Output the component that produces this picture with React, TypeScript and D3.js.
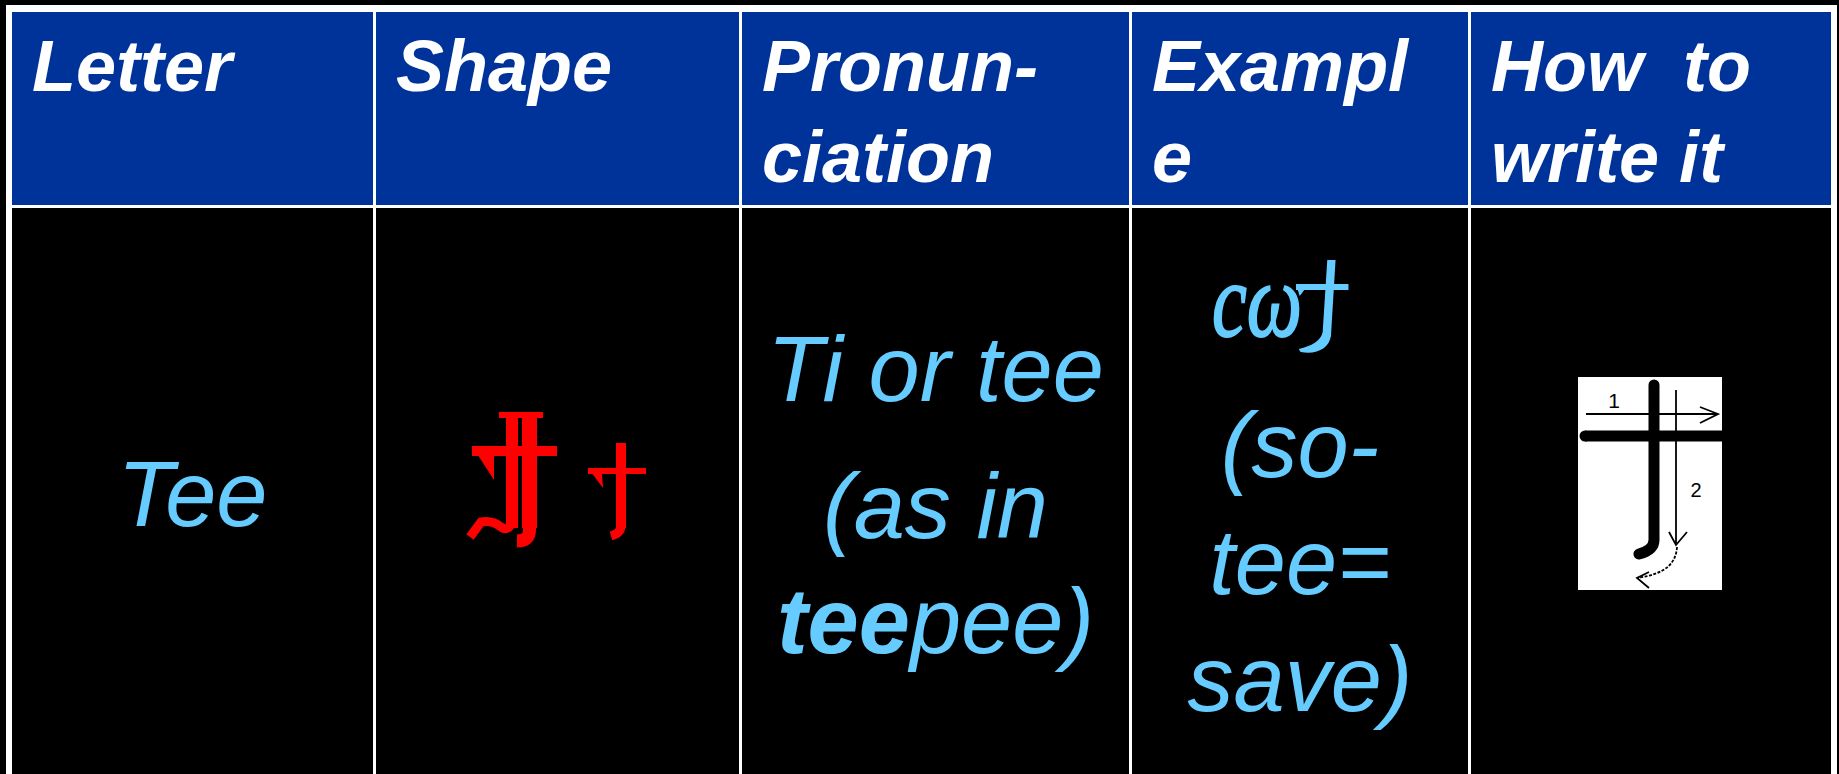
import React from "react";
import * as d3 from "d3";

const W = 1839;
const H = 774;

// ---- table content ----
const headerLines: string[][] = [
  ["Letter"],
  ["Shape"],
  ["Pronun-", "ciation"],
  ["Exampl", "e"],
  ["How  to", "write it"],
];
const letterName = "Tee";
const pronunciationLines = ["Ti or tee", "(as in"];
const teepeeBold = "tee";
const teepeeRest = "pee)";
const exampleScript = "cω";
const exampleLines = ["(so-", "tee=", "save)"];
const strokeLabels = ["1", "2"];

// ---- layout ----
const colStarts = [12, 376, 742, 1132, 1471, 1834];
const GAP = 3;
const headerTop = 12;
const headerBottom = 205;
const bodyTop = 208;

const BLUE = "#003399";
const LIGHT = "#66CCFF";
const RED = "#FF0000";
const SANS = "'Liberation Sans', Arial, sans-serif";
const SERIF = "'Liberation Serif', 'Times New Roman', serif";

export default function App() {
  const cells = d3.pairs(colStarts).map(([a, b]) => ({ x0: a, x1: b - GAP }));
  const cx = (i: number) => (cells[i].x0 + cells[i].x1) / 2;

  // header baselines
  const hy = d3.scaleLinear().domain([0, 1]).range([91, 182]);
  // body line positions
  const pronY = [401, 538, 653];
  const exY = d3.scaleLinear().domain([0, 1]).range([477, 594]);

  return (
    <svg
      width={W}
      height={H}
      viewBox={`0 0 ${W} ${H}`}
      style={{ position: "absolute", left: 0, top: 0, display: "block" }}
    >
      <rect x={0} y={0} width={W} height={H} fill="#000" />
      {/* white frame / grid */}
      <rect x={6} y={5} width={1831} height={H} fill="#fff" />
      {cells.map((c, i) => (
        <g key={i}>
          <rect x={c.x0} y={headerTop} width={c.x1 - c.x0} height={headerBottom - headerTop} fill={BLUE} />
          <rect x={c.x0} y={bodyTop} width={c.x1 - c.x0} height={H - bodyTop + 10} fill="#000" />
        </g>
      ))}

      {/* header texts */}
      {headerLines.map((lines, i) =>
        lines.map((t, j) => (
          <text
            key={`${i}-${j}`}
            x={cells[i].x0 + 20}
            y={hy(j)}
            fill="#fff"
            fontFamily={SANS}
            fontWeight="bold"
            fontStyle="italic"
            fontSize={72}
            style={{ whiteSpace: "pre" }}
          >
            {t}
          </text>
        ))
      )}

      {/* Letter column */}
      <text x={cx(0)} y={526} textAnchor="middle" fill={LIGHT} fontFamily={SANS} fontStyle="italic" fontSize={92}>
        {letterName}
      </text>

      {/* Shape column: red glyphs */}
      <g fill={RED}>
        {/* big glyph */}
        <rect x={499} y={412} width={44} height={6} />
        <rect x={506} y={412} width={12} height={116} />
        <rect x={522} y={412} width={15} height={116} />
        <rect x={472} y={446} width={85} height={10} />
        <polygon points="472,446 494,456 494,480" />
        <path d="M 470 537 L 481 522 Q 492 520 501 527 Q 508 532 512 522" fill="none" stroke={RED} strokeWidth={9} />
        <path d="M 529.5 524 L 529.5 530 Q 529.5 541 517 541" fill="none" stroke={RED} strokeWidth={13} />
        {/* small glyph */}
        <rect x={616} y={443} width={10} height={85} />
        <path d="M 621 526 Q 621 533 611 536" fill="none" stroke={RED} strokeWidth={9} />
        <rect x={588} y={468} width={58} height={6} />
        <polygon points="588,468 603,488 602,474" />
      </g>

      {/* Pronunciation column */}
      {pronunciationLines.map((t, j) => (
        <text key={j} x={cx(2)} y={pronY[j]} textAnchor="middle" fill={LIGHT} fontFamily={SANS} fontStyle="italic" fontSize={92}>
          {t}
        </text>
      ))}
      <text x={cx(2)} y={pronY[2]} textAnchor="middle" fill={LIGHT} fontFamily={SANS} fontStyle="italic" fontSize={92}>
        <tspan fontWeight="bold">{teepeeBold}</tspan>
        <tspan>{teepeeRest}</tspan>
      </text>

      {/* Example column */}
      <text
        x={1212}
        y={336}
        fill={LIGHT}
        stroke={LIGHT}
        strokeWidth={2}
        fontFamily={SERIF}
        fontStyle="italic"
        fontSize={106}
        textLength={90}
        lengthAdjust="spacingAndGlyphs"
      >
        {exampleScript}
      </text>
      <g transform="translate(1296,260) scale(0.92,1)" fill={LIGHT}>
        <rect x={0} y={24} width={57} height={6} />
        <polygon points="0,24 9,30 4,36" />
        <path d="M 34 0 L 43 0 L 38 76 C 36 88 23 95 5 92 L 3 89 C 17 86 27 81 29 72 Z" />
      </g>
      {exampleLines.map((t, j) => (
        <text key={j} x={cx(3)} y={exY(j)} textAnchor="middle" fill={LIGHT} fontFamily={SANS} fontStyle="italic" fontSize={92}>
          {t}
        </text>
      ))}

      {/* How to write it: stroke-order picture */}
      <g transform="translate(1578,377)">
        <rect x={0} y={0} width={144} height={213} fill="#fff" />
        <path d="M 76 8 L 76 163 Q 76 173 61 177" fill="none" stroke="#000" strokeWidth={11} strokeLinecap="round" />
        <line x1={7} y1={59} x2={144} y2={59} stroke="#000" strokeWidth={11} strokeLinecap="butt" />
        <circle cx={7} cy={59} r={5.5} fill="#000" />
        <g stroke="#000" strokeWidth={1.8} fill="none">
          <line x1={8} y1={37} x2={140} y2={37} />
          <polyline points="122,30 140,37 122,46" />
          <line x1={98} y1={13} x2={98} y2={168} />
          <polyline points="91,155 98,168 109,155" />
          <path d="M 99 170 C 98 186 88 197 59 201" strokeDasharray="3 1.5" />
          <polyline points="71,195 59,201 71,211" />
        </g>
        <text x={36} y={31} textAnchor="middle" fontFamily={SANS} fontSize={21} fill="#000">
          {strokeLabels[0]}
        </text>
        <text x={118} y={120} textAnchor="middle" fontFamily={SANS} fontSize={20} fill="#000">
          {strokeLabels[1]}
        </text>
      </g>
    </svg>
  );
}
